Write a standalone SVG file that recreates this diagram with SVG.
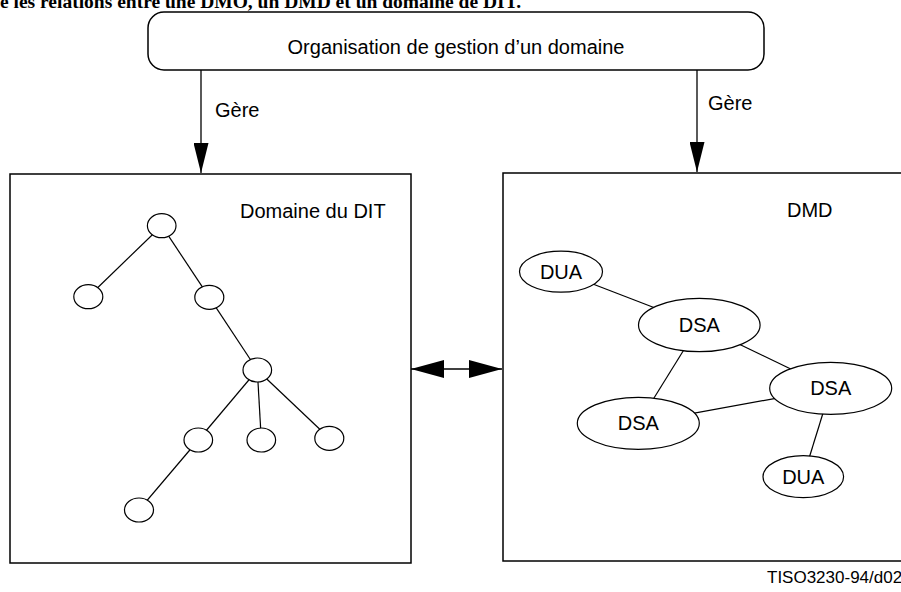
<svg xmlns="http://www.w3.org/2000/svg" width="901" height="592" viewBox="0 0 901 592">
<defs>
<style>
.t{font-family:"Liberation Sans",Arial,sans-serif;font-size:20px;fill:#000}
.c{text-anchor:middle}
.box{fill:#fff;stroke:#000;stroke-width:1.5}
.n{fill:#fff;stroke:#000;stroke-width:1.2}
.e{stroke:#000;stroke-width:1.2;fill:none}
.ln{stroke:#000;stroke-width:1.3;fill:none}
</style>
<marker id="ah" markerWidth="30" markerHeight="15" refX="30" refY="7.5" orient="auto" markerUnits="userSpaceOnUse" viewBox="0 0 30 15">
<path d="M0,0 L30,7.5 L0,15 Z" fill="#000"/>
</marker>
<marker id="ah2" markerWidth="34" markerHeight="18" refX="33" refY="9" orient="auto-start-reverse" markerUnits="userSpaceOnUse" viewBox="0 0 34 18">
<path d="M0,0 L33,9 L0,18 Z" fill="#000"/>
</marker>
</defs>
<rect width="901" height="592" fill="#fff"/>
<text x="0" y="7.5" style="font-family:'Liberation Serif','Times New Roman',serif;font-size:19.5px;font-weight:bold">e les relations entre une DMO, un DMD et un domaine de DIT.</text>

<g id="dmo">
<rect class="box" x="148" y="12" width="616" height="58" rx="16" ry="16"/>
<text class="t c" x="456" y="54">Organisation de gestion d’un domaine</text>
</g>

<g id="dit-domain">
<rect class="box" x="10" y="174" width="401" height="389"/>
<text class="t" x="240" y="218">Domaine du DIT</text>
</g>

<g id="dmd">
<rect class="box" x="503" y="173" width="410" height="388"/>
<text class="t" x="787" y="217">DMD</text>
</g>

<g id="connectors">
<line class="ln" x1="201" y1="70" x2="201" y2="173" marker-end="url(#ah)"/>
<line class="ln" x1="697" y1="70" x2="697" y2="172" marker-end="url(#ah)"/>
<line class="ln" x1="411" y1="369" x2="502" y2="369" marker-start="url(#ah2)" marker-end="url(#ah2)"/>
<g id="tree-edges">
<line class="e" x1="161.7" y1="225.7" x2="88.3" y2="296.7"/>
<line class="e" x1="161.7" y1="225.7" x2="209.3" y2="297.3"/>
<line class="e" x1="209.3" y1="297.3" x2="257.3" y2="370"/>
<line class="e" x1="257.3" y1="370" x2="198.3" y2="440"/>
<line class="e" x1="257.3" y1="370" x2="261.3" y2="440"/>
<line class="e" x1="257.3" y1="370" x2="329.3" y2="438.3"/>
<line class="e" x1="198.3" y1="440" x2="139" y2="510"/>
</g>
<g id="dmd-edges">
<line class="e" x1="561" y1="271.7" x2="699.3" y2="325"/>
<line class="e" x1="699.3" y1="325" x2="638.3" y2="423.3"/>
<line class="e" x1="699.3" y1="325" x2="830.7" y2="388.3"/>
<line class="e" x1="638.3" y1="423.3" x2="830.7" y2="388.3"/>
<line class="e" x1="830.7" y1="388.3" x2="803.3" y2="476.7"/>
</g>
</g>

<text class="t" x="215" y="117">Gère</text>
<text class="t" x="708" y="110">Gère</text>

<g id="tree-nodes">
<ellipse id="t1" class="n" cx="161.7" cy="225.7" rx="14.3" ry="12"/>
<ellipse id="t2" class="n" cx="88.3" cy="296.7" rx="14.5" ry="12"/>
<ellipse id="t3" class="n" cx="209.3" cy="297.3" rx="14.5" ry="12"/>
<ellipse id="t4" class="n" cx="257.3" cy="370" rx="14.3" ry="12"/>
<ellipse id="t5" class="n" cx="198.3" cy="440" rx="14.3" ry="12"/>
<ellipse id="t6" class="n" cx="261.3" cy="440" rx="14.3" ry="12"/>
<ellipse id="t7" class="n" cx="329.3" cy="438.3" rx="14.5" ry="12"/>
<ellipse id="t8" class="n" cx="139" cy="510" rx="14.5" ry="12"/>
</g>

<g id="dua1">
<ellipse class="n" cx="561" cy="271.7" rx="41.5" ry="20.5"/>
<text class="t c" x="561" y="278.5">DUA</text>
</g>
<g id="dsa1">
<ellipse class="n" cx="699.3" cy="325" rx="60.8" ry="26.7"/>
<text class="t c" x="699.3" y="332">DSA</text>
</g>
<g id="dsa2">
<ellipse class="n" cx="830.7" cy="388.3" rx="61" ry="26"/>
<text class="t c" x="830.7" y="395">DSA</text>
</g>
<g id="dsa3">
<ellipse class="n" cx="638.3" cy="423.3" rx="61" ry="26"/>
<text class="t c" x="638.3" y="430">DSA</text>
</g>
<g id="dua2">
<ellipse class="n" cx="803.3" cy="476.7" rx="40.3" ry="21"/>
<text class="t c" x="803.3" y="483.5">DUA</text>
</g>

<text x="767" y="583" style="font-family:'Liberation Sans',Arial,sans-serif;font-size:17px">TISO3230-94/d02</text>
</svg>
